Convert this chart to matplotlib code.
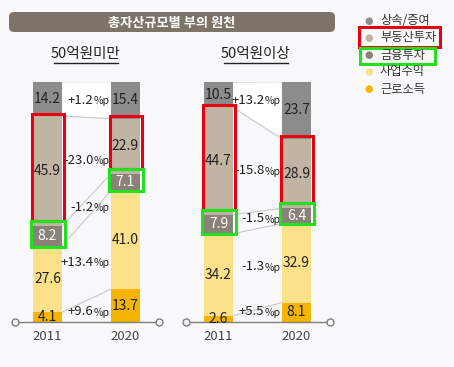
import matplotlib
matplotlib.use("Agg")
import matplotlib.pyplot as plt
from matplotlib.patches import Rectangle, FancyBboxPatch, Polygon
from matplotlib.lines import Line2D

plt.rcParams['font.family'] = ['Liberation Sans Narrow', 'Noto Sans CJK KR', 'DejaVu Sans']

# data
categories = ["상속/증여", "부동산투자", "금융투자", "사업수익", "근로소득"]
colors = ["#8c8c8c", "#c0b4a3", "#8a8178", "#fde08a", "#f5b400"]
years = ["2011", "2020"]
panels = ["50억원미만", "50억원이상"]

# stacked from bottom: 근로소득, 사업수익, 금융투자, 부동산투자, 상속/증여
under50_2011 = [4.1, 27.6, 8.2, 45.9, 14.2]
under50_2020 = [13.7, 41.0, 7.1, 22.9, 15.4]
over50_2011 = [2.6, 34.2, 7.9, 44.7, 10.5]
over50_2020 = [8.1, 32.9, 6.4, 28.9, 23.7]

under50_change = ["+9.6", "+13.4", "-1.2", "-23.0", "+1.2"]
over50_change = ["+5.5", "-1.3", "-1.5", "-15.8", "+13.2"]

stack_colors = colors[::-1]
text_colors = ["#222222", "#222222", "white", "#222222", "#222222"]

# layout
W, H = 454, 367
BG = "#f9f9fb"
fig = plt.figure(figsize=(W / 100, H / 100), dpi=100, facecolor=BG)

def fx(px):
    return px / W

def fy(py):
    return 1 - py / H

# title bar
fig.patches.append(FancyBboxPatch((fx(9), fy(32)), fx(326), 20 / H,
                                  boxstyle="round,pad=0,rounding_size=0.012",
                                  transform=fig.transFigure, facecolor="#7e7368",
                                  edgecolor="none"))
fig.text(fx(172), fy(22.5), "총자산규모별 부의 원천", color="white", fontsize=9.5,
         fontweight="bold", ha="center", va="center", family=['Noto Sans CJK KR'])

# legend
for i, (cat, c) in enumerate(zip(categories, colors)):
    y = 21 + i * 17
    fig.text(fx(369), fy(y), "●", color=c, fontsize=7, ha="center", va="center",
             family=['DejaVu Sans'])
    fig.text(fx(380), fy(y), cat, color="#333333", fontsize=8.8, ha="left", va="center",
             family=['Noto Sans CJK KR'])
fig.patches.append(Rectangle((fx(359), fy(47)), fx(81), 20 / H, transform=fig.transFigure,
                             facecolor="none", edgecolor="#e60012", lw=2.2))
fig.patches.append(Rectangle((fx(360), fy(64)), fx(75), 16 / H, transform=fig.transFigure,
                             facecolor="none", edgecolor="#22e01e", lw=2.2))

panel_data = [(under50_2011, under50_2020, under50_change, 13, 86),
              (over50_2011, over50_2020, over50_change, 184, 256)]
change_y = [[4.2, 25, 47.9, 67.5, 92.5], [4.2, 23, 43, 63, 92.5]]

xs = [34.5, 112.5]
bw = 29

for p, (v11, v20, chg, left_px, title_x) in enumerate(panel_data):
    ax = fig.add_axes([fx(left_px), fy(322), fx(147), 240 / H])
    ax.set_xlim(0, 147)
    ax.set_ylim(0, 100)
    ax.axis("off")

    bottoms = []
    for xi, vals in zip(xs, [v11, v20]):
        b = 0
        bt = []
        for k, v in enumerate(vals):
            ax.bar(xi, v, bw, bottom=b, color=stack_colors[k], edgecolor="none", zorder=3)
            ax.text(xi, b + v / 2, f"{v:.1f}", ha="center", va="center", fontsize=10,
                    color=text_colors[k], zorder=6)
            bt.append((b, b + v))
            b += v
        bottoms.append(bt)

    x1 = xs[0] + bw / 2
    x2 = xs[1] - bw / 2
    b11, b20 = bottoms
    # white band between 상속/증여 segments
    ax.add_patch(Polygon([(x1, b11[4][0]), (x1, b11[4][1]), (x2, b20[4][1]), (x2, b20[4][0])],
                         closed=True, facecolor="white", edgecolor="none", zorder=1))
    lc = "#c8c8c8"
    ax.plot([x1, x2], [b11[4][1], b20[4][1]], color="#dcdcdc", lw=0.8, zorder=2)
    ax.plot([x1, x2], [b11[3][1], b20[3][1]], color=lc, lw=0.8, zorder=2)
    ax.plot([x1, x2], [b11[2][1], b20[2][1]], color=lc, lw=0.8, zorder=2)
    ax.plot([x1, x2], [b11[2][0], b20[2][0]], color=lc, lw=0.8, zorder=2)
    ax.plot([x1, x2], [b11[0][1], b20[0][1]], color=lc, lw=0.8, zorder=2)

    # change labels: number + smaller %p
    for t, yy in zip(chg, change_y[p]):
        ax.text(80.5, yy, t, ha="right", va="center", fontsize=9.5, color="#222222", zorder=6)
        ax.text(80.5, yy - 0.3, "%p", ha="left", va="center", fontsize=7.5, color="#222222",
                zorder=6)

    # highlight boxes
    for xi, bt in zip(xs, bottoms):
        r0, r1 = bt[3]
        ax.add_patch(Rectangle((xi - bw / 2 - 1.5, r0 + 2), bw + 3, r1 - r0 - 1,
                               facecolor="none", edgecolor="#e60012", lw=2.2, zorder=7))
        g0, g1 = bt[2]
        ax.add_patch(Rectangle((xi - bw / 2 - 2.5, g0 - 0.3), bw + 5, g1 - g0 + 2.3,
                               facecolor="none", edgecolor="#22e01e", lw=2.2, zorder=7))

    # axis line
    ax.add_line(Line2D([1.5, 145.5], [0, 0], color="#7f7f7f", lw=1, zorder=4, clip_on=False))
    ax.plot([1.5, 145.5], [0, 0], "o", ms=5, mfc=BG, mec="#7f7f7f", mew=1, zorder=5, clip_on=False)

    for xi, yr in zip(xs, years):
        ax.text(xi, -6, yr, ha="center", va="center", fontsize=9.5, color="#444444")

    # subtitle
    fig.text(fx(title_x), fy(54), panels[p], ha="center", va="center", fontsize=10.5,
             color="#222222")
    fig.lines.append(Line2D([fx(title_x - 32), fx(title_x + 32)], [fy(63), fy(63)],
                            transform=fig.transFigure, color="#222222", lw=1))

fig.savefig("out.png", dpi=100, facecolor=BG)
